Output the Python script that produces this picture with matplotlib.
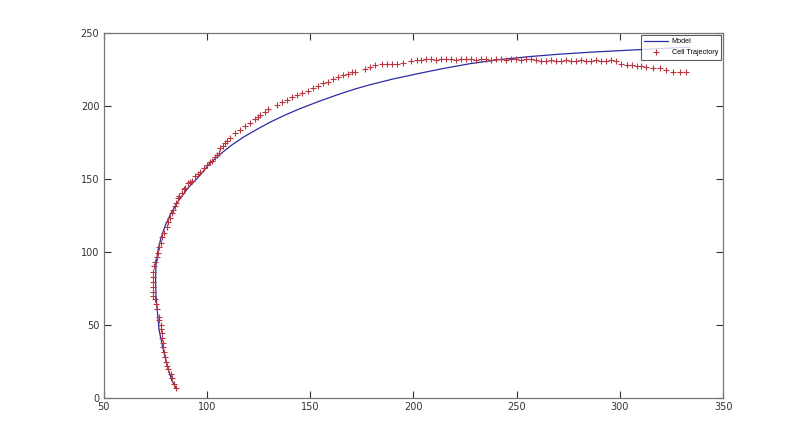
import matplotlib
matplotlib.use("Agg")
import matplotlib.pyplot as plt

# model curve
model_x = [85.4, 83.0, 80.7, 78.6, 76.9, 76.0, 75.4, 75.2, 75.4, 76.4, 77.8, 79.8,
           82.7, 86.5, 91.0, 96.0, 101.5, 106.4, 112.0, 118.0, 124.5, 130.6, 138.0,
           145.1, 155.0, 164.4, 172.0, 179.0, 190.0, 203.1, 215.0, 228.0, 242.0,
           256.0, 270.0, 285.0, 300.0, 315.0, 333.8]
model_y = [5.8, 12.1, 22.4, 35.0, 46.4, 60.2, 70.5, 80.7, 91.0, 101.3, 109.6, 117.8,
           126.7, 135.5, 144.0, 151.5, 160.8, 167.0, 173.3, 179.0, 184.3, 189.0, 194.0,
           198.3, 203.7, 208.4, 211.9, 214.7, 218.6, 222.6, 226.0, 229.3, 232.0,
           234.0, 235.6, 237.0, 238.1, 239.2, 240.5]

# measured cell positions
cell_x = [85.1, 84.3, 83.3, 82.5, 81.4, 80.6, 80.2, 79.8, 79.3, 78.8, 78.6, 78.3,
          78.3, 78.0, 77.7, 77.0, 76.9, 75.7, 75.4, 74.8, 74.1, 74.1, 74.0, 74.1,
          74.1, 74.1, 74.6, 75.1, 75.7, 76.2, 77.0, 77.7, 78.5, 79.3, 80.6, 81.4,
          82.2, 83.1, 83.8, 84.6, 85.1, 86.2, 86.7, 87.8, 89.0, 89.4, 91.0, 91.9,
          92.7, 94.3, 95.7, 96.7, 98.6, 100.2, 101.5, 102.4, 104.0, 104.9, 106.0, 106.4,
          107.6, 108.8, 110.0, 111.2, 113.6, 116.0, 118.5, 120.9, 123.3, 124.9, 125.7, 128.1,
          129.7, 133.8, 136.2, 138.6, 141.1, 143.5, 145.9, 149.1, 151.5, 153.9, 156.4, 158.8,
          161.2, 163.6, 166.0, 168.5, 170.1, 171.7, 176.5, 179.0, 181.4, 184.6, 187.0, 189.5,
          191.9, 195.1, 198.7, 201.6, 203.6, 206.0, 208.4, 210.9, 213.3, 215.7, 218.1, 220.6,
          223.0, 225.4, 227.8, 230.2, 232.7, 235.1, 237.5, 239.9, 242.3, 244.8, 247.2, 249.6,
          252.0, 254.4, 256.9, 259.3, 261.7, 264.1, 266.5, 269.0, 271.4, 273.8, 276.2, 278.6,
          281.1, 283.5, 285.9, 288.3, 290.7, 293.2, 295.6, 298.0, 300.7, 303.2, 305.6, 308.0,
          310.4, 312.8, 316.0, 319.3, 322.5, 325.7, 329.0, 331.9]
cell_y = [6.4, 9.4, 13.3, 16.3, 19.5, 21.7, 24.7, 28.1, 31.6, 35.0, 37.7, 40.8,
          44.6, 47.3, 49.9, 53.3, 55.2, 60.6, 64.3, 67.5, 69.8, 72.7, 76.2, 79.6,
          83.0, 86.4, 90.4, 93.3, 96.7, 99.5, 103.6, 106.3, 110.0, 113.2, 117.3, 120.5,
          123.1, 126.5, 128.8, 131.2, 133.4, 136.8, 138.4, 140.2, 143.0, 143.7, 147.1, 148.2,
          148.9, 151.8, 153.5, 155.0, 157.4, 159.6, 161.9, 162.4, 164.9, 166.5, 167.7, 171.1,
          172.7, 174.5, 176.1, 178.0, 181.4, 183.7, 186.2, 188.7, 191.1, 192.8, 194.0, 196.2,
          197.9, 200.8, 203.1, 204.2, 206.1, 207.7, 209.2, 210.6, 212.3, 213.8, 215.7, 216.8,
          218.4, 220.2, 221.4, 221.9, 223.4, 223.7, 225.5, 226.7, 228.0, 228.7, 228.9, 228.9,
          228.9, 229.4, 231.2, 231.7, 232.0, 232.2, 232.4, 232.0, 232.4, 232.2, 232.4, 232.0,
          232.4, 232.2, 232.4, 232.0, 232.4, 232.2, 232.0, 232.4, 232.2, 232.0, 232.4, 232.2,
          232.0, 232.4, 232.2, 232.0, 231.2, 231.2, 231.4, 231.2, 231.2, 231.4, 231.2, 231.2,
          231.4, 231.2, 231.2, 231.4, 231.2, 231.2, 231.4, 231.2, 228.9, 228.3, 228.0, 227.8,
          227.6, 227.1, 226.4, 226.0, 224.8, 223.7, 223.7, 223.7]

fig = plt.figure(figsize=(8, 4.47), dpi=100)
ax = fig.add_axes([0.1294, 0.1103, 0.7747, 0.8152])

ax.plot(model_x, model_y, color='#2b2ba6', lw=0.9, label='Model')
ax.plot(cell_x, cell_y, ls='none', marker='+', ms=4.8, mew=0.8,
        color='#b8343f', label='Cell Trajectory')

ax.set_xlim(50, 350)
ax.set_ylim(0, 250)
ax.set_xticks(range(50, 351, 50))
ax.set_yticks(range(0, 251, 50))
ax.tick_params(direction='in', top=True, right=True, length=5, width=0.8,
               labelsize=7, colors='#333333', pad=3)
for s in ax.spines.values():
    s.set_color('#777777')
    s.set_linewidth(0.9)

leg = ax.legend(loc='upper right', frameon=True, fancybox=False,
                prop={'family': 'Liberation Sans', 'size': 5.2},
                edgecolor='#333333', borderpad=0.45, handlelength=3.3,
                handletextpad=0.5, labelspacing=0.55, borderaxespad=0.25)
leg.get_frame().set_linewidth(0.8)

fig.savefig("out.png", dpi=100)
